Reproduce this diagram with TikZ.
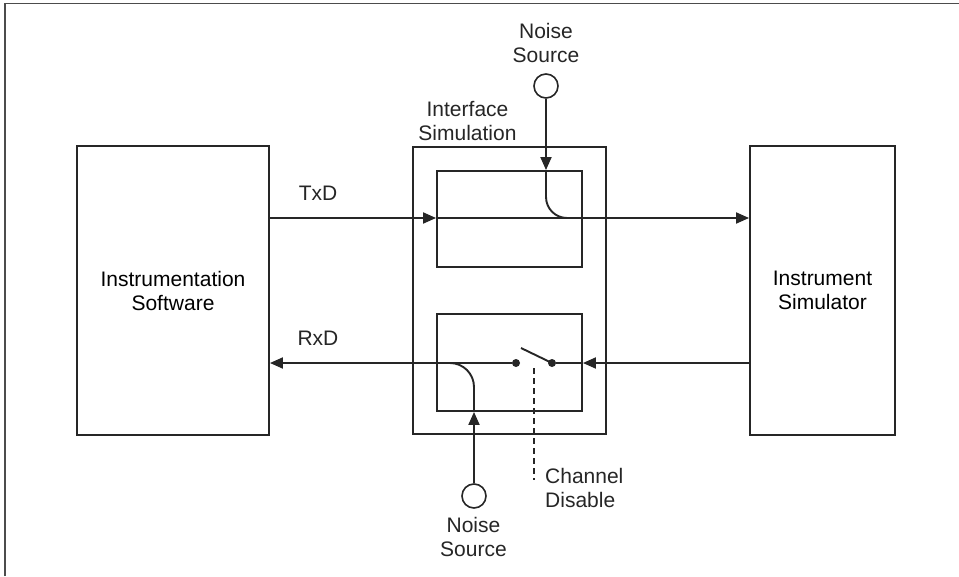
\documentclass[tikz,border=0pt]{standalone}
\usepackage{fontspec}
\setmainfont{Liberation Sans}
\usetikzlibrary{arrows.meta}
\begin{document}
\begin{tikzpicture}[x=1pt,y=-1pt,
  txt/.style={font=\fontsize{21}{24}\selectfont},
  box/.style={draw=black!85, line width=1.9pt, inner sep=0pt, align=center, txt},
  lbl/.style={inner sep=0pt, align=center, txt, text=black!85},
  wire/.style={line width=1.9pt, draw=black!85},
  arr/.style={wire, -{Triangle[length=13pt,width=11pt]}},
  src/.style={circle, draw=black!85, line width=1.6pt, minimum size=24pt, inner sep=0pt},
  swdot/.style={circle, fill=black!85, minimum size=8pt, inner sep=0pt}]
\useasboundingbox (0,0) rectangle (959,576);
\fill[white] (0,0) rectangle (959,576);
% frame (top and left edges)
\draw[line width=1.8pt, black!70] (5,576) -- (5,3.5) -- (959,3.5);
% blocks
\node[box, minimum width=192pt, minimum height=289pt] (sw) at (173,290.5) {Instrumentation\\Software};
\node[box, minimum width=145pt, minimum height=289pt] (is) at (822.5,290.5) {Instrument\\Simulator};
\node[box, minimum width=193pt, minimum height=287pt] (ifs) at (509.5,290.5) {};
\node[box, minimum width=145pt, minimum height=96pt] (tb) at (509.5,219) {};
\node[box, minimum width=145pt, minimum height=97pt] (bb) at (509.5,362.5) {};
% labels
\node[lbl] (iflbl) at (467.5,121) {Interface\\Simulation};
\node[lbl] (txd) at (318,193) {TxD};
\node[lbl] (rxd) at (318,338) {RxD};
\node[lbl, align=left, anchor=west] (cd) at (545,488) {Channel\\Disable};
\node[lbl] (ns1lbl) at (546,43) {Noise\\Source};
\node[lbl] (ns2lbl) at (473.5,536.5) {Noise\\Source};
% noise sources and switch contacts
\node[src] (ns1) at (546,86) {};
\node[src] (ns2) at (474,496) {};
\node[swdot] (d1) at (516,363) {};
\node[swdot] (d2) at (552,363) {};
\coordinate (tx) at (0,218);
\coordinate (rx) at (0,363);
\coordinate (lever) at (521,348);
\coordinate (cdtop) at (534,368);
\coordinate (cdbot) at (534,480);
% TxD path
\draw[arr] (sw.east |- tx) -- (tb.west |- tx);
\draw[arr] (tb.west |- tx) -- (is.west |- tx);
\draw[arr] (ns1) -- (tb.north -| ns1);
\draw[wire, rounded corners=21pt] (tb.north -| ns1) -- (ns1 |- tx) -- ([xshift=21pt]ns1 |- tx);
% RxD path
\draw[arr] (is.west |- rx) -- (bb.east |- rx);
\draw[wire] (bb.east |- rx) -- (d2);
\draw[wire] (d2.center) -- (lever);
\draw[arr] (d1) -- (sw.east |- rx);
\draw[arr] (ns2) -- (bb.south -| ns2);
\draw[wire, rounded corners=24pt] (bb.south -| ns2) -- (ns2 |- rx) -- ([xshift=-24pt]ns2 |- rx);
% channel disable control
\draw[wire, line width=1.4pt, dash pattern=on 6pt off 4pt] (cdtop) -- (cdbot);
\end{tikzpicture}
\end{document}
